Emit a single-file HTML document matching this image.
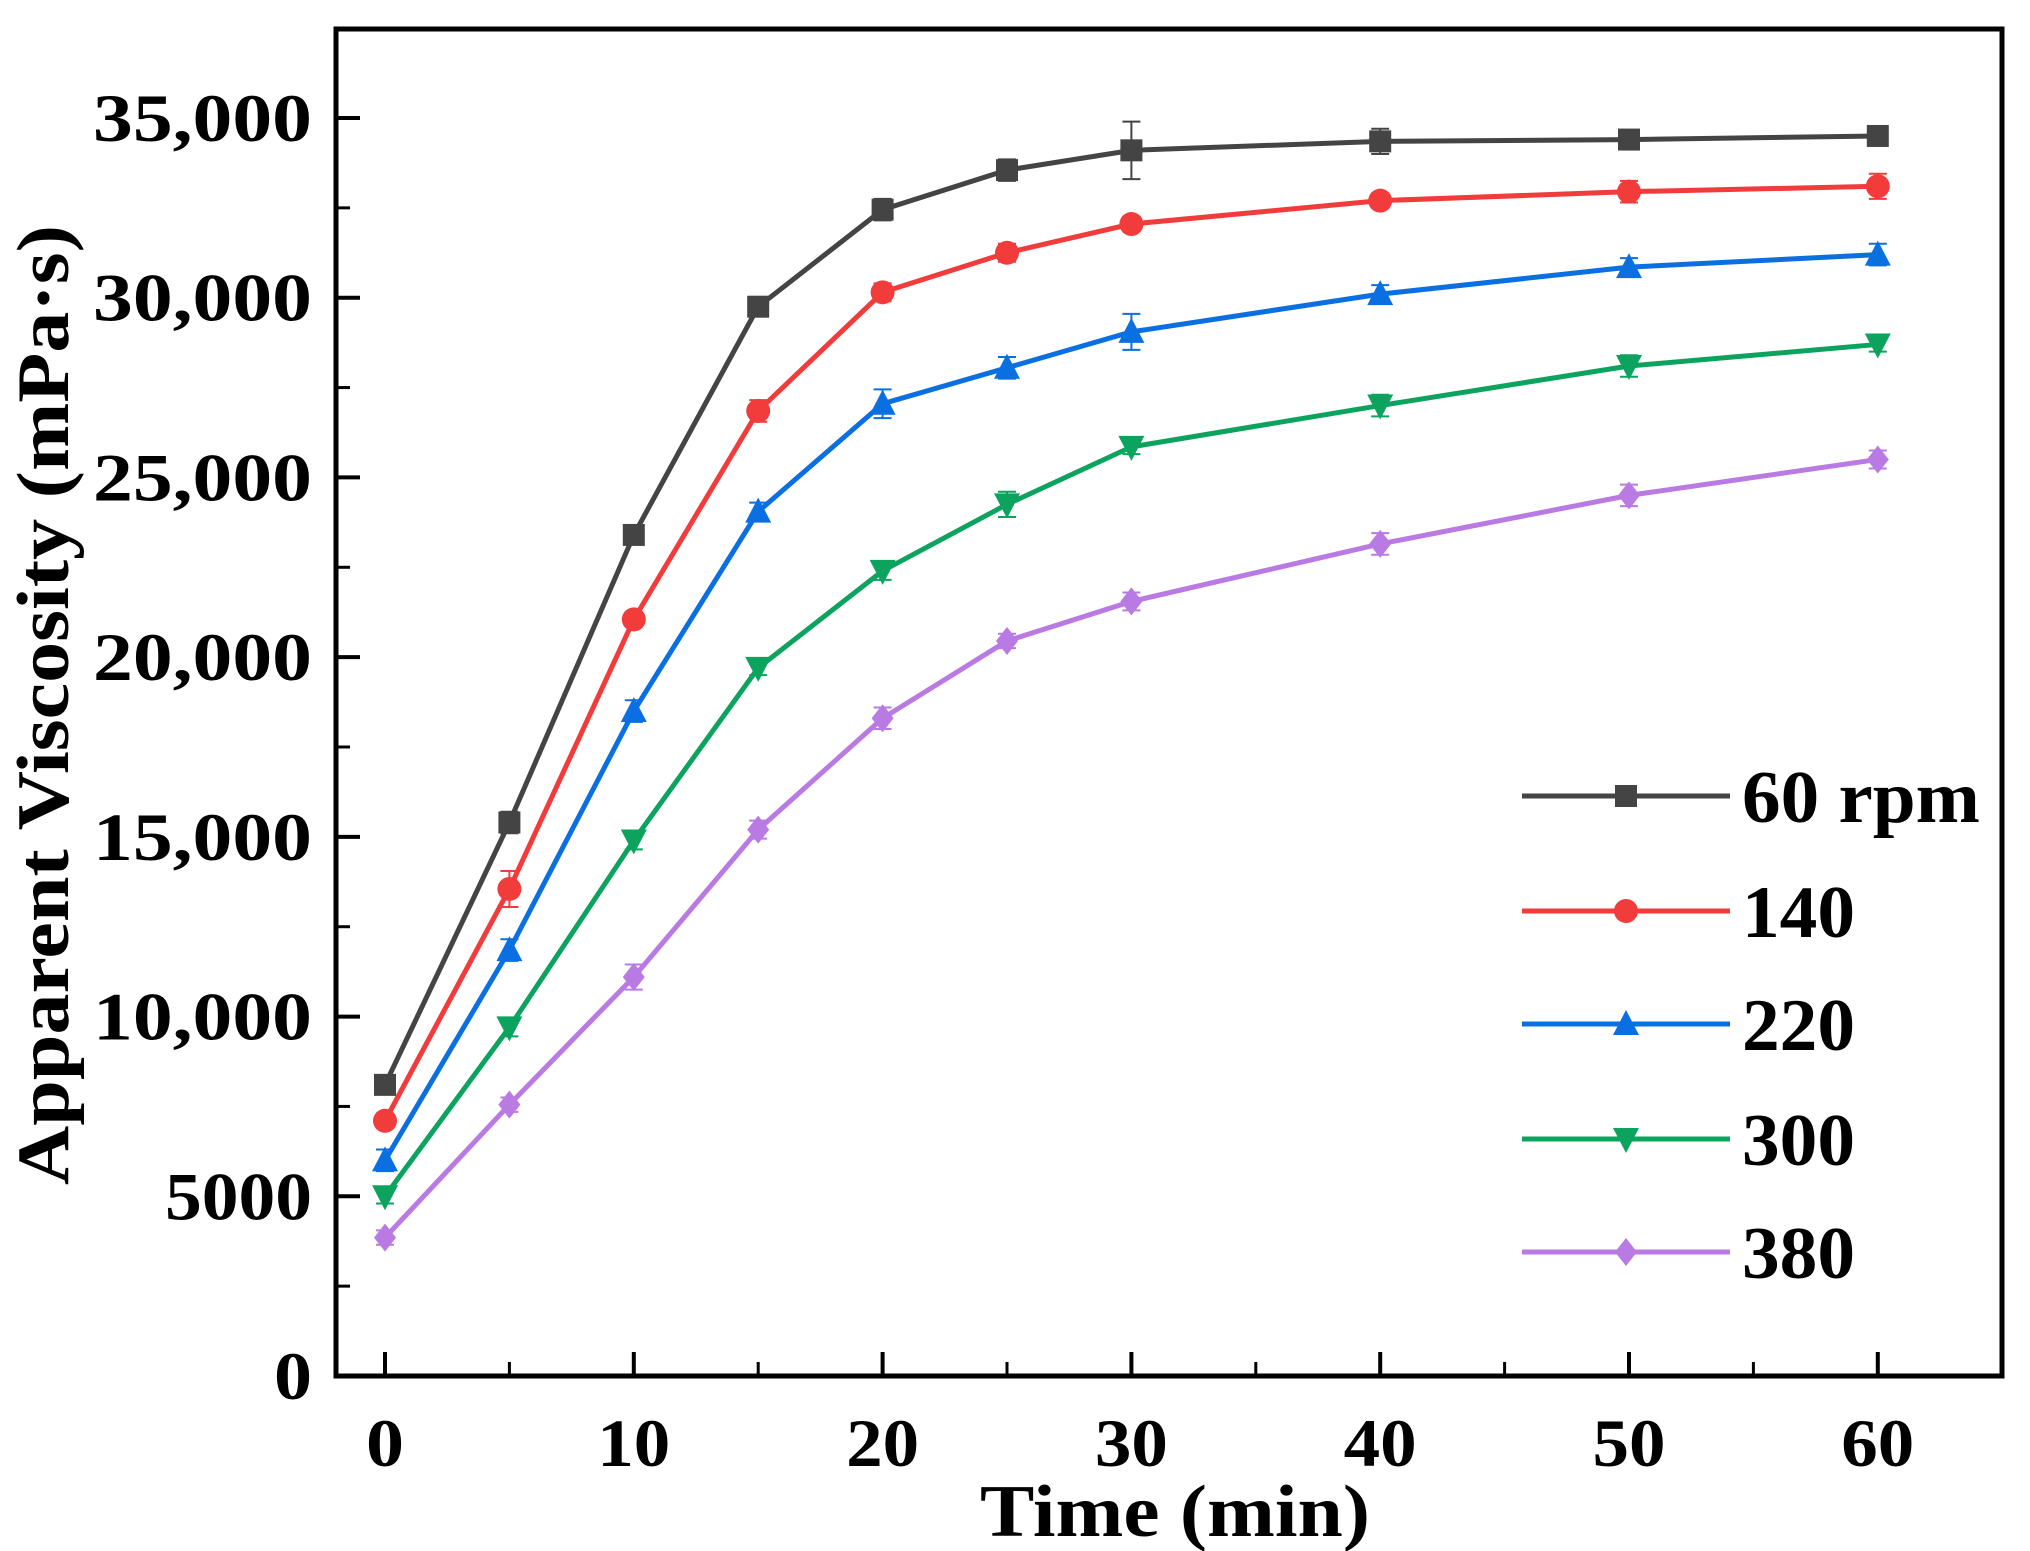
<!DOCTYPE html>
<html><head><meta charset="utf-8"><style>
html,body{margin:0;padding:0;background:#fff;}
svg{display:block;font-family:"Liberation Serif",serif;font-weight:bold;}
</style></head><body>
<svg id="chart" width="2030" height="1551" viewBox="0 0 2030 1551">
<g id="plot"></g>
</svg>
<script>
const times=[0,5,10,15,20,25,30,40,50,60];
const seriesNames=["60 rpm","140","220","300","380"];
const s60=[8100,15400,23400,29750,32450,33550,34100,34350,34400,34500];
const s140=[7100,13550,21050,26850,30150,31250,32050,32700,32950,33100];
const s220=[6000,11850,18500,24050,27050,28050,29050,30100,30850,31200];
const s300=[5000,9700,14900,19700,22400,24250,25850,27000,28100,28700];
const s380=[3850,7550,11100,15200,18300,20450,21550,23150,24500,25500];
const e60=[200,300,250,200,300,300,800,350,250,250];
const e140=[200,500,200,300,250,250,200,200,300,350];
const e220=[300,300,300,250,400,300,500,250,250,300];
const e300=[200,250,250,200,250,350,200,300,300,200];
const e380=[200,200,350,250,300,200,250,300,300,250];
const yTicks=[0,5000,10000,15000,20000,25000,30000,35000];
const yTickLabels=["0","5000","10,000","15,000","20,000","25,000","30,000","35,000"];
const xTicks=[0,10,20,30,40,50,60];

const NS="http://www.w3.org/2000/svg";
const g=document.getElementById('plot');
const X=t=>385+t*24.88;
const Y=v=>1376-v*(1376-118)/35000;
function mk(tag,attrs,parent){const e=document.createElementNS(NS,tag);for(const k in attrs)e.setAttribute(k,attrs[k]);(parent||g).appendChild(e);return e;}

const frame=mk('rect',{x:336,y:29,width:1666,height:1347,fill:'none',stroke:'#000','stroke-width':5});



yTicks.forEach((v,i)=>{
  const t=mk('line',{x1:336,x2:360,y1:Y(v),y2:Y(v),stroke:'#000','stroke-width':4});
  
  
  if(i<yTicks.length-1){const m=mk('line',{x1:336,x2:350,y1:Y(v+2500),y2:Y(v+2500),stroke:'#000','stroke-width':3});
  
  }
  const lab=yTickLabels[i];
  const len=lab.length===6?219:(lab.length===4?147:38);
  const l=mk('text',{x:312,y:Y(v)+23,'text-anchor':'end','font-size':68,textLength:len,lengthAdjust:'spacingAndGlyphs'});
  l.textContent=lab;
  
  
});
xTicks.forEach(v=>{
  const t=mk('line',{x1:X(v),x2:X(v),y1:1376,y2:1352,stroke:'#000','stroke-width':4});
  
  
  if(v<60){const m=mk('line',{x1:X(v+5),x2:X(v+5),y1:1376,y2:1362,stroke:'#000','stroke-width':3});
  
  }
  const s=String(v);
  const l=mk('text',{x:X(v),y:1466,'text-anchor':'middle','font-size':68,textLength:s.length>1?73:38,lengthAdjust:'spacingAndGlyphs'});
  l.textContent=s;
  
  
});
const xt=mk('text',{x:1175,y:1536,'text-anchor':'middle','font-size':74,textLength:390,lengthAdjust:'spacingAndGlyphs'});
xt.textContent='Time (min)';


const yt=mk('text',{x:0,y:0,'text-anchor':'middle','font-size':74,textLength:960,lengthAdjust:'spacingAndGlyphs',transform:'translate(68,705) rotate(-90)'});
yt.textContent='Apparent Viscosity (mPa·s)';



const all=[s60,s140,s220,s300,s380];
const errs=[e60,e140,e220,e300,e380];
const colors=['#444444','#f23b3b','#0a6fe0','#0ca35f','#b97ae3'];
const markers=['square','circle','up','down','diamond'];
function marker(type,x,y,c,parent){
  const r=11;let e;
  if(type==='square')e=mk('rect',{x:x-r,y:y-r,width:2*r,height:2*r,fill:c},parent);
  else if(type==='circle')e=mk('circle',{cx:x,cy:y,r:r+1,fill:c},parent);
  else if(type==='up')e=mk('polygon',{points:`${x},${y-r-3} ${x-r-2},${y+r} ${x+r+2},${y+r}`,fill:c},parent);
  else if(type==='down')e=mk('polygon',{points:`${x},${y+r+3} ${x-r-2},${y-r} ${x+r+2},${y-r}`,fill:c},parent);
  else e=mk('polygon',{points:`${x},${y-r-3} ${x+r},${y} ${x},${y+r+3} ${x-r},${y}`,fill:c},parent);
  return e;
}
const legY=[796,911,1024,1139,1252];
all.forEach((data,si)=>{
  const c=colors[si];
  const sg=mk('g',{});
  
  
  const pl=mk('polyline',{points:data.map((v,i)=>X(times[i])+','+Y(v)).join(' '),fill:'none',stroke:c,'stroke-width':5},sg);
  
  
  data.forEach((v,i)=>{
    const x=X(times[i]),e=errs[si][i];
    const eb=mk('path',{d:`M${x},${Y(v+e)}V${Y(v-e)}M${x-9},${Y(v+e)}H${x+9}M${x-9},${Y(v-e)}H${x+9}`,stroke:c,'stroke-width':2,fill:'none'},sg);
    
    
    const m=marker(markers[si],x,Y(v),c,sg);
    
    
  });
  const lg=mk('g',{});
  
  
  mk('line',{x1:1522,x2:1730,y1:legY[si],y2:legY[si],stroke:c,'stroke-width':5},lg);
  marker(markers[si],1626,legY[si],c,lg);
  const nm=seriesNames[si];
  const lt=mk('text',{x:1742,y:legY[si]+26,'font-size':74,textLength:nm.length>3?238:113,lengthAdjust:'spacingAndGlyphs'},lg);
  lt.textContent=nm;
});
</script>
</body></html>
